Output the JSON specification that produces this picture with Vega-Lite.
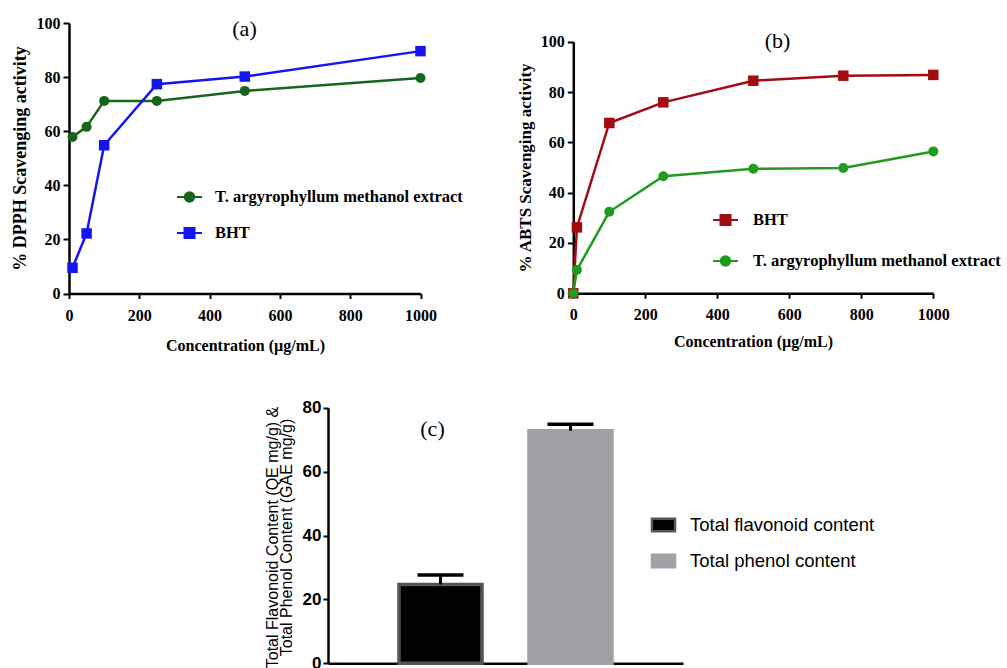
{
  "$schema": "https://vega.github.io/schema/vega-lite/v6.json",
  "width": 1007,
  "height": 668,
  "padding": 0,
  "autosize": {"type": "none"},
  "background": "white",
  "config": {
    "view": {"stroke": null},
    "axis": {"grid": false, "domainColor": "#000", "domainWidth": 2.5, "tickColor": "#000", "tickWidth": 2, "tickSize": 5, "labelColor": "#000", "titleColor": "#000", "labelFlush": false, "labelOverlap": false, "titleBaseline": "middle", "titleAlign": "center"},
    "legend": {"title": null, "padding": 0, "labelColor": "#000", "labelLimit": 500, "orient": "none"}
  },
  "datasets": {
    "dpph": [
      {"sample": "T. argyrophyllum methanol extract", "conc": 10, "activity": 57.9},
      {"sample": "T. argyrophyllum methanol extract", "conc": 50, "activity": 61.6},
      {"sample": "T. argyrophyllum methanol extract", "conc": 100, "activity": 71.2},
      {"sample": "T. argyrophyllum methanol extract", "conc": 250, "activity": 71.2},
      {"sample": "T. argyrophyllum methanol extract", "conc": 500, "activity": 74.9},
      {"sample": "T. argyrophyllum methanol extract", "conc": 1000, "activity": 79.7},
      {"sample": "BHT", "conc": 10, "activity": 9.5},
      {"sample": "BHT", "conc": 50, "activity": 22.2},
      {"sample": "BHT", "conc": 100, "activity": 54.8},
      {"sample": "BHT", "conc": 250, "activity": 77.4},
      {"sample": "BHT", "conc": 500, "activity": 80.2},
      {"sample": "BHT", "conc": 1000, "activity": 89.6}
    ],
    "abts": [
      {"sample": "BHT", "conc": 0, "activity": 0},
      {"sample": "BHT", "conc": 10, "activity": 26.2},
      {"sample": "BHT", "conc": 100, "activity": 67.7},
      {"sample": "BHT", "conc": 250, "activity": 75.9},
      {"sample": "BHT", "conc": 500, "activity": 84.5},
      {"sample": "BHT", "conc": 750, "activity": 86.5},
      {"sample": "BHT", "conc": 1000, "activity": 86.8},
      {"sample": "T. argyrophyllum methanol extract", "conc": 0, "activity": 0},
      {"sample": "T. argyrophyllum methanol extract", "conc": 10, "activity": 9.3},
      {"sample": "T. argyrophyllum methanol extract", "conc": 100, "activity": 32.4},
      {"sample": "T. argyrophyllum methanol extract", "conc": 250, "activity": 46.5},
      {"sample": "T. argyrophyllum methanol extract", "conc": 500, "activity": 49.5},
      {"sample": "T. argyrophyllum methanol extract", "conc": 750, "activity": 49.8},
      {"sample": "T. argyrophyllum methanol extract", "conc": 1000, "activity": 56.4}
    ],
    "content": [
      {"group": "Total flavonoid content", "value": 24.7, "upper": 27.6},
      {"group": "Total phenol content", "value": 72.8, "upper": 74.8}
    ]
  },
  "layer": [
    {
      "data": {"name": "dpph"},
      "layer": [
        {
          "mark": {"type": "line", "strokeWidth": 2.5},
          "encoding": {
            "x": {"field": "conc", "type": "quantitative",
              "scale": {"domain": [0, 1000], "range": [69, 420.5], "nice": false, "zero": false},
              "axis": {"orient": "bottom", "offset": -374.5, "values": [0, 200, 400, 600, 800, 1000], "format": "d", "labelFont": "Liberation Serif", "labelFontSize": 16, "labelFontWeight": "bold", "labelPadding": 9, "tickSize": 5, "title": "Concentration (µg/mL)", "titleFont": "Liberation Serif", "titleFontSize": 16, "titleFontWeight": "bold", "titleX": 245, "titleY": 51.5}},
            "y": {"field": "activity", "type": "quantitative",
              "scale": {"domain": [0, 100], "range": [293.5, 23], "nice": false},
              "axis": {"orient": "left", "offset": -69, "values": [0, 20, 40, 60, 80, 100], "labelFont": "Liberation Serif", "labelFontSize": 16, "labelFontWeight": "bold", "labelPadding": 3, "tickSize": 6, "title": "% DPPH Scavenging activity", "titleFont": "Liberation Serif", "titleFontSize": 18, "titleFontWeight": "bold", "titleX": -48.5, "titleY": 158, "titleAngle": 270}},
            "color": {"field": "sample", "type": "nominal",
              "scale": {"domain": ["T. argyrophyllum methanol extract", "BHT"], "range": ["#17651b", "#1515f2"]},
              "legend": {"orient": "none", "legendX": 176, "legendY": 183.5, "symbolSize": 625, "symbolStrokeWidth": 2, "labelFont": "Liberation Serif", "labelFontSize": 16.5, "labelFontWeight": "bold", "labelOffset": 12, "rowPadding": 13,
                "encode": {"symbols": {"update": {
                  "shape": {"signal": "datum.value === 'BHT' ? 'M-1,0L1,0M-0.4,-0.4L0.4,-0.4L0.4,0.4L-0.4,0.4Z' : 'M-1,0L1,0M-0.38,0A0.38,0.38,0,1,0,0.38,0A0.38,0.38,0,1,0,-0.38,0Z'"},
                  "fill": {"signal": "datum.value === 'BHT' ? '#1515f2' : '#17651b'"},
                  "stroke": {"signal": "datum.value === 'BHT' ? '#1515f2' : '#17651b'"},
                  "strokeWidth": {"value": 2},
                  "opacity": {"value": 1},
                  "fillOpacity": {"value": 1},
                  "strokeOpacity": {"value": 1}}}}}}
          }
        },
        {
          "transform": [{"filter": "datum.sample !== 'BHT'"}],
          "mark": {"type": "point", "shape": "circle", "filled": true, "size": 100, "opacity": 1},
          "encoding": {
            "x": {"field": "conc", "type": "quantitative",
              "axis": {"orient": "top", "domain": false, "ticks": false, "labels": false, "title": "(a)", "titleFont": "Liberation Serif", "titleFontSize": 22, "titleFontWeight": "normal", "titleX": 244, "titleY": 28}},
            "y": {"field": "activity", "type": "quantitative"},
            "color": {"field": "sample", "type": "nominal"}
          }
        },
        {
          "transform": [{"filter": "datum.sample === 'BHT'"}],
          "mark": {"type": "point", "shape": "square", "filled": true, "size": 110, "opacity": 1},
          "encoding": {
            "x": {"field": "conc", "type": "quantitative", "axis": null},
            "y": {"field": "activity", "type": "quantitative"},
            "color": {"field": "sample", "type": "nominal"}
          }
        }
      ],
      "resolve": {"axis": {"x": "independent"}}
    },
    {
      "data": {"name": "abts"},
      "layer": [
        {
          "mark": {"type": "line", "strokeWidth": 2.5},
          "encoding": {
            "x": {"field": "conc", "type": "quantitative",
              "scale": {"domain": [0, 1000], "range": [573.3, 933.3], "nice": false, "zero": false},
              "axis": {"orient": "bottom", "offset": -374.7, "values": [0, 200, 400, 600, 800, 1000], "format": "d", "labelFont": "Liberation Serif", "labelFontSize": 16, "labelFontWeight": "bold", "labelPadding": 8, "tickSize": 5, "title": "Concentration (µg/mL)", "titleFont": "Liberation Serif", "titleFontSize": 16, "titleFontWeight": "bold", "titleX": 753, "titleY": 48.4}},
            "y": {"field": "activity", "type": "quantitative",
              "scale": {"domain": [0, 100], "range": [293.3, 41.7], "nice": false},
              "axis": {"orient": "left", "offset": -573.3, "values": [0, 20, 40, 60, 80, 100], "labelFont": "Liberation Serif", "labelFontSize": 16, "labelFontWeight": "bold", "labelPadding": 3, "tickSize": 6, "title": "% ABTS Scavenging activity", "titleFont": "Liberation Serif", "titleFontSize": 17, "titleFontWeight": "bold", "titleX": -48.3, "titleY": 167.5, "titleAngle": 270}},
            "color": {"field": "sample", "type": "nominal",
              "scale": {"domain": ["BHT", "T. argyrophyllum methanol extract"], "range": ["#a30d12", "#1f9c1f"]},
              "legend": {"orient": "none", "legendX": 712, "legendY": 206.5, "symbolSize": 625, "symbolStrokeWidth": 2, "labelFont": "Liberation Serif", "labelFontSize": 16.5, "labelFontWeight": "bold", "labelOffset": 14, "rowPadding": 18,
                "encode": {"symbols": {"update": {
                  "shape": {"signal": "datum.value === 'BHT' ? 'M-1,0L1,0M-0.4,-0.4L0.4,-0.4L0.4,0.4L-0.4,0.4Z' : 'M-1,0L1,0M-0.38,0A0.38,0.38,0,1,0,0.38,0A0.38,0.38,0,1,0,-0.38,0Z'"},
                  "fill": {"signal": "datum.value === 'BHT' ? '#a30d12' : '#1f9c1f'"},
                  "stroke": {"signal": "datum.value === 'BHT' ? '#a30d12' : '#1f9c1f'"},
                  "strokeWidth": {"value": 2},
                  "opacity": {"value": 1},
                  "fillOpacity": {"value": 1},
                  "strokeOpacity": {"value": 1}}}}}}
          }
        },
        {
          "transform": [{"filter": "datum.sample === 'BHT'"}],
          "mark": {"type": "point", "shape": "square", "filled": true, "size": 110, "opacity": 1},
          "encoding": {
            "x": {"field": "conc", "type": "quantitative",
              "axis": {"orient": "top", "domain": false, "ticks": false, "labels": false, "title": "(b)", "titleFont": "Liberation Serif", "titleFontSize": 22, "titleFontWeight": "normal", "titleX": 777, "titleY": 40}},
            "y": {"field": "activity", "type": "quantitative"},
            "color": {"field": "sample", "type": "nominal"}
          }
        },
        {
          "transform": [{"filter": "datum.sample !== 'BHT'"}],
          "mark": {"type": "point", "shape": "circle", "filled": true, "size": 100, "opacity": 1},
          "encoding": {
            "x": {"field": "conc", "type": "quantitative", "axis": null},
            "y": {"field": "activity", "type": "quantitative"},
            "color": {"field": "sample", "type": "nominal"}
          }
        }
      ],
      "resolve": {"axis": {"x": "independent"}}
    },
    {
      "data": {"name": "content"},
      "layer": [
        {
          "mark": {"type": "bar", "strokeWidth": 3.5},
          "encoding": {
            "x": {"field": "group", "type": "nominal", "sort": null,
              "scale": {"domain": ["Total flavonoid content", "Total phenol content"], "range": [328, 683], "paddingInner": 0.3615, "paddingOuter": 0.546},
              "axis": {"orient": "bottom", "offset": -4.7, "labels": false, "ticks": false, "title": null}},
            "y": {"field": "value", "type": "quantitative",
              "scale": {"domain": [0, 80], "range": [663.3, 407.7], "nice": false},
              "axis": {"orient": "left", "offset": -328, "values": [0, 20, 40, 60, 80], "labelFont": "Liberation Sans", "labelFontSize": 17, "labelFontWeight": "bold", "labelPadding": 2, "tickSize": 5, "title": ["Total Flavonoid Content (QE mg/g) &", "Total Phenol Content (GAE mg/g)"], "titleFont": "Liberation Sans", "titleFontSize": 16, "titleFontWeight": "normal", "titleLineHeight": 14, "titleX": -56, "titleY": 537, "titleAngle": 270}},
            "color": {"field": "group", "type": "nominal",
              "scale": {"domain": ["Total flavonoid content", "Total phenol content"], "range": ["#000000", "#a0a0a6"]},
              "legend": {"orient": "none", "legendX": 650.5, "legendY": 512, "symbolSize": 529, "symbolStrokeWidth": 2.5, "labelFont": "Liberation Sans", "labelFontSize": 18.5, "labelFontWeight": "normal", "labelOffset": 13.5, "rowPadding": 11,
                "encode": {"symbols": {"update": {
                  "shape": {"value": "M-1,-0.55L1,-0.55L1,0.55L-1,0.55Z"},
                  "fill": {"signal": "datum.value === 'Total phenol content' ? '#a0a0a6' : '#000000'"},
                  "stroke": {"signal": "datum.value === 'Total phenol content' ? '#a0a0a6' : '#555555'"},
                  "strokeWidth": {"value": 2.5},
                  "opacity": {"value": 1},
                  "fillOpacity": {"value": 1}}}}}},
            "stroke": {"field": "group", "type": "nominal",
              "scale": {"domain": ["Total flavonoid content", "Total phenol content"], "range": ["#555555", "#a0a0a6"]},
              "legend": null}
          }
        },
        {
          "mark": {"type": "rule", "strokeWidth": 3, "color": "#000"},
          "encoding": {
            "x": {"field": "group", "type": "nominal", "sort": null, "axis": null},
            "y": {"field": "value", "type": "quantitative"},
            "y2": {"field": "upper"}
          }
        },
        {
          "mark": {"type": "tick", "thickness": 3.5, "size": 46, "color": "#000", "orient": "horizontal", "opacity": 1},
          "encoding": {
            "x": {"field": "group", "type": "nominal", "sort": null,
              "axis": {"orient": "top", "domain": false, "ticks": false, "labels": false, "title": "(c)", "titleFont": "Liberation Serif", "titleFontSize": 22, "titleFontWeight": "normal", "titleX": 432, "titleY": 428}},
            "y": {"field": "upper", "type": "quantitative"}
          }
        }
      ],
      "resolve": {"axis": {"x": "independent"}}
    }
  ],
  "resolve": {
    "scale": {"x": "independent", "y": "independent", "color": "independent", "stroke": "independent"},
    "axis": {"x": "independent", "y": "independent"},
    "legend": {"color": "independent", "stroke": "independent"}
  }
}
